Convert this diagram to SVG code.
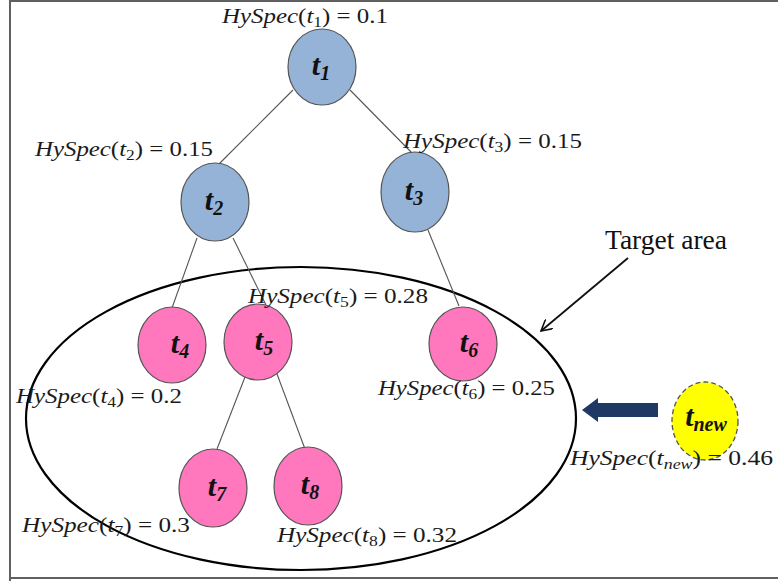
<svg xmlns="http://www.w3.org/2000/svg" width="778" height="581" viewBox="0 0 778 581">
<defs>
<style>
.frame{fill:none;stroke:#606060;stroke-width:2}
.edge{stroke:#555;stroke-width:1.1;fill:none}
.blue{fill:#95B3D7;stroke:#555;stroke-width:1.2}
.pink{fill:#FF77BC;stroke:#555;stroke-width:1.2}
.yellow{fill:#FFFF00;stroke:#555;stroke-width:1.3;stroke-dasharray:5 3}
.lbl{font-family:"Liberation Serif","DejaVu Serif",serif;font-size:20px;fill:#1a1a1a}
.it{font-style:italic}
.sub{font-size:14px}
.nl{font-family:"Liberation Serif","DejaVu Serif",serif;font-size:30px;font-weight:bold;font-style:italic;fill:#111;text-anchor:middle}
.nsub{font-size:20px}
.target{font-family:"Liberation Serif","Times New Roman",serif;font-size:27px;fill:#111}
</style>
<marker id="open" viewBox="0 0 12 12" refX="11" refY="6" markerWidth="12" markerHeight="12" markerUnits="userSpaceOnUse" orient="auto">
<path d="M0,0 L11,6 L0,12" fill="none" stroke="#111" stroke-width="1.6"/>
</marker>
</defs>
<rect width="778" height="581" fill="#fff"/>
<path class="frame" d="M10,581 L10,1 L778,1 M10,578 L778,578"/>
<ellipse cx="301" cy="418.5" rx="275" ry="151.5" fill="none" stroke="#000" stroke-width="2.2"/>
<g id="connectors">
<line class="edge" x1="293" y1="90" x2="219" y2="164"/>
<line class="edge" x1="350" y1="90" x2="412" y2="153"/>
<line class="edge" x1="197" y1="238" x2="172" y2="308"/>
<line class="edge" x1="233" y1="238" x2="266" y2="305"/>
<line class="edge" x1="428" y1="230" x2="459" y2="306"/>
<line class="edge" x1="245" y1="377" x2="217" y2="449"/>
<line class="edge" x1="277" y1="374" x2="305" y2="449"/>
<line x1="628" y1="258" x2="541" y2="331" stroke="#111" stroke-width="1.8" marker-end="url(#open)"/>
<path d="M658,403 L598,403 L598,398 L582,410 L598,422 L598,417 L658,417 Z" fill="#1F3864"/>
</g>
<g id="t1">
<ellipse class="blue" cx="322" cy="67" rx="34" ry="38"/>
<text class="nl" x="321" y="75">t<tspan class="nsub" dy="5">1</tspan></text>
<text class="lbl" x="222" y="23" textLength="166" lengthAdjust="spacingAndGlyphs"><tspan class="it">HySpec</tspan>(<tspan class="it">t</tspan><tspan class="sub" dy="4">1</tspan><tspan dy="-4">) = 0.1</tspan></text>
</g>
<g id="t2">
<ellipse class="blue" cx="215" cy="202" rx="34" ry="39"/>
<text class="nl" x="214" y="210">t<tspan class="nsub" dy="5">2</tspan></text>
<text class="lbl" x="35" y="156" textLength="178" lengthAdjust="spacingAndGlyphs"><tspan class="it">HySpec</tspan>(<tspan class="it">t</tspan><tspan class="sub" dy="4">2</tspan><tspan dy="-4">) = 0.15</tspan></text>
</g>
<g id="t3">
<ellipse class="blue" cx="415" cy="192" rx="34" ry="40"/>
<text class="nl" x="414" y="200">t<tspan class="nsub" dy="5">3</tspan></text>
<text class="lbl" x="403" y="148" textLength="179" lengthAdjust="spacingAndGlyphs"><tspan class="it">HySpec</tspan>(<tspan class="it">t</tspan><tspan class="sub" dy="4">3</tspan><tspan dy="-4">) = 0.15</tspan></text>
</g>
<g id="t4">
<ellipse class="pink" cx="172" cy="345" rx="34" ry="38"/>
<text class="nl" x="180" y="353">t<tspan class="nsub" dy="5">4</tspan></text>
<text class="lbl" x="16" y="403" textLength="166" lengthAdjust="spacingAndGlyphs"><tspan class="it">HySpec</tspan>(<tspan class="it">t</tspan><tspan class="sub" dy="4">4</tspan><tspan dy="-4">) = 0.2</tspan></text>
</g>
<g id="t5">
<ellipse class="pink" cx="258" cy="342" rx="34" ry="38"/>
<text class="nl" x="264" y="350">t<tspan class="nsub" dy="5">5</tspan></text>
<text class="lbl" x="248" y="303" textLength="180" lengthAdjust="spacingAndGlyphs"><tspan class="it">HySpec</tspan>(<tspan class="it">t</tspan><tspan class="sub" dy="4">5</tspan><tspan dy="-4">) = 0.28</tspan></text>
</g>
<g id="t6">
<ellipse class="pink" cx="463" cy="344" rx="34" ry="37"/>
<text class="nl" x="469" y="352">t<tspan class="nsub" dy="5">6</tspan></text>
<text class="lbl" x="378" y="395" textLength="177" lengthAdjust="spacingAndGlyphs"><tspan class="it">HySpec</tspan>(<tspan class="it">t</tspan><tspan class="sub" dy="4">6</tspan><tspan dy="-4">) = 0.25</tspan></text>
</g>
<g id="t7">
<ellipse class="pink" cx="213" cy="488" rx="34" ry="39"/>
<text class="nl" x="217" y="496">t<tspan class="nsub" dy="5">7</tspan></text>
<text class="lbl" x="22" y="532" textLength="168" lengthAdjust="spacingAndGlyphs"><tspan class="it">HySpec</tspan>(<tspan class="it">t</tspan><tspan class="sub" dy="4">7</tspan><tspan dy="-4">) = 0.3</tspan></text>
</g>
<g id="t8">
<ellipse class="pink" cx="308" cy="486" rx="34" ry="39"/>
<text class="nl" x="310" y="494">t<tspan class="nsub" dy="5">8</tspan></text>
<text class="lbl" x="277" y="542" textLength="180" lengthAdjust="spacingAndGlyphs"><tspan class="it">HySpec</tspan>(<tspan class="it">t</tspan><tspan class="sub" dy="4">8</tspan><tspan dy="-4">) = 0.32</tspan></text>
</g>
<g id="tnew">
<ellipse class="yellow" cx="705" cy="421" rx="33" ry="39"/>
<text class="nl" x="706" y="426">t<tspan class="nsub" dy="5">new</tspan></text>
<text class="lbl" x="570" y="465" textLength="203" lengthAdjust="spacingAndGlyphs"><tspan class="it">HySpec</tspan>(<tspan class="it">t</tspan><tspan class="sub it" dy="4">new</tspan><tspan dy="-4">) = 0.46</tspan></text>
</g>
<g id="target-label">
<text class="target" x="605" y="249" textLength="122" lengthAdjust="spacingAndGlyphs">Target area</text>
</g>
</svg>
